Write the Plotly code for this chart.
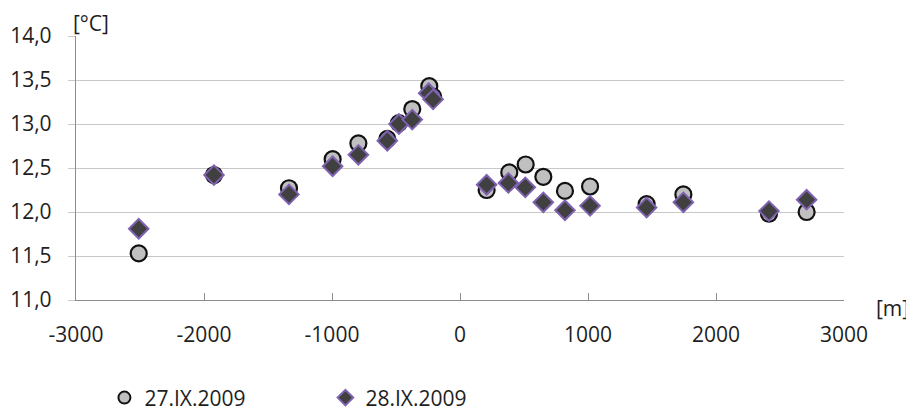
import plotly.graph_objects as go

# 27.IX.2009 (circles)
x_27 = [-2510, -1922, -1336, -995, -794, -568, -477, -373, -240, -210,
        208, 385, 513, 651, 820, 1016, 1458, 1745, 2414, 2708]
y_27 = [11.53, 12.42, 12.27, 12.60, 12.78, 12.83, 13.01, 13.17, 13.43, 13.31,
        12.25, 12.45, 12.54, 12.40, 12.24, 12.29, 12.09, 12.20, 11.98, 12.00]

# 28.IX.2009 (diamonds)
x_28 = [-2510, -1922, -1336, -995, -794, -568, -477, -373, -245, -210,
        208, 378, 510, 651, 820, 1016, 1458, 1745, 2414, 2708]
y_28 = [11.81, 12.42, 12.20, 12.52, 12.65, 12.81, 13.00, 13.05, 13.35, 13.28,
        12.31, 12.33, 12.28, 12.11, 12.02, 12.07, 12.05, 12.11, 12.01, 12.14]

x_ticks = [-3000, -2000, -1000, 0, 1000, 2000, 3000]
x_ticklabels = ["-3000", "-2000", "-1000", "0", "1000", "2000", "3000"]
y_ticks = [11.0, 11.5, 12.0, 12.5, 13.0, 13.5, 14.0]
y_ticklabels = ["11,0", "11,5", "12,0", "12,5", "13,0", "13,5", "14,0"]

FONT = "Open Sans"
FS = 21
TXT = "#1e1e1e"
fig = go.Figure()
fig.add_trace(go.Scatter(
    x=x_27, y=y_27, mode="markers", name="27.IX.2009",
    marker=dict(symbol="circle", size=16, color="#c0c0c0",
                line=dict(color="#111111", width=2.2)),
))
fig.add_trace(go.Scatter(
    x=x_28, y=y_28, mode="markers", name="28.IX.2009",
    marker=dict(symbol="diamond", size=15, color="#404040",
                line=dict(color="#7f62b0", width=2)),
))

fig.update_layout(
    width=906, height=420,
    margin=dict(l=68, r=70, t=28, b=128, autoexpand=False),
    paper_bgcolor="white", plot_bgcolor="white",
    font=dict(family=FONT, size=FS, color=TXT),
    showlegend=True,
    legend=dict(orientation="h", x=0.037, xanchor="left", y=-0.371, yanchor="middle",
                yref="paper", font=dict(family=FONT, size=FS, color=TXT),
                entrywidth=176, entrywidthmode="pixels", itemsizing="constant",
                bgcolor="rgba(0,0,0,0)"),
    xaxis=dict(range=[-3000, 3000], tickvals=x_ticks, ticktext=x_ticklabels,
               showgrid=False, automargin=False,
               zeroline=False, showline=True, linecolor="#8c8c8c", linewidth=1.3,
               ticks="inside", ticklen=7, tickcolor="#8c8c8c", tickwidth=1.3,
               tickfont=dict(family=FONT, size=FS, color=TXT),
               ticklabelstandoff=16),
    yaxis=dict(range=[11, 14], tickvals=y_ticks, ticktext=y_ticklabels,
               showgrid=True, gridcolor="#c8c8c8", gridwidth=1.3, automargin=False,
               zeroline=False, showline=True, linecolor="#8c8c8c", linewidth=1.3,
               ticks="outside", ticklen=7, tickcolor="#c8c8c8", tickwidth=1.3,
               tickfont=dict(family=FONT, size=FS, color=TXT),
               ticklabelstandoff=12),
    annotations=[
        dict(text="[°C]", xref="paper", yref="paper", x=0.0, y=1.0,
             xanchor="left", yanchor="middle", showarrow=False, xshift=-4, yshift=13,
             borderpad=0,
             font=dict(family=FONT, size=FS, color=TXT)),
        dict(text="[m]", xref="paper", yref="paper", x=1.0, y=0.0,
             xanchor="left", yanchor="middle", showarrow=False, xshift=30, yshift=-8,
             font=dict(family=FONT, size=FS, color=TXT)),
    ],
)

fig.write_html("out.html")
